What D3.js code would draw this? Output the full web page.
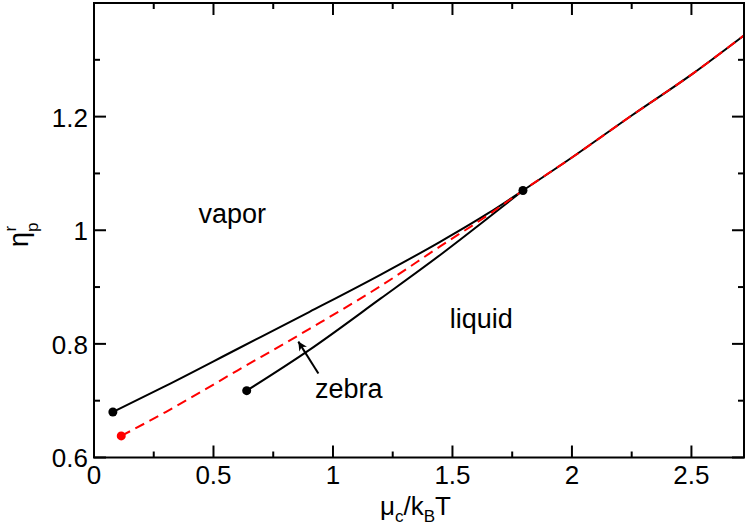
<!DOCTYPE html>
<html lang="en">
<head>
  <meta charset="UTF-8">
  <title>Phase diagram</title>
  <script src="https://d3js.org/d3.v7.min.js"></script>
  <style>
    body { margin: 0; padding: 0; background: #fff; }
    svg { display: block; font-family: "Liberation Sans", Arial, sans-serif; }
    .frame { fill: none; stroke: #000; stroke-width: 2px; }
    .tick-label { font-size: 26px; fill: #000; }
    .curve { fill: none; stroke-width: 2px; }
  </style>
</head>
<body>
  <div id="chart"></div>
  <script>
// vapor/liquid boundary (black, continues past the critical point)
const binodalMu  = [0.079, 0.3, 0.6, 0.9, 1.2, 1.45, 1.65, 1.795, 2.0, 2.25, 2.5, 2.72];
const binodalEta = [0.680, 0.726, 0.791, 0.856, 0.922, 0.980, 1.030, 1.070, 1.128, 1.202, 1.274, 1.343];

// red dashed line
const dashedMu  = [0.114, 0.3, 0.6, 0.9, 1.2, 1.45, 1.65, 1.795, 2.0, 2.25, 2.5, 2.72];
const dashedEta = [0.638, 0.680, 0.753, 0.826, 0.902, 0.972, 1.027, 1.070, 1.128, 1.202, 1.274, 1.343];

// zebra boundary (black, lower branch)
const zebraMu  = [0.639, 0.9, 1.2, 1.45, 1.65, 1.795];
const zebraEta = [0.7176, 0.789, 0.880, 0.957, 1.022, 1.070];

// end points
const blackDots = [[0.079, 0.680], [0.639, 0.7176], [1.795, 1.070]];
const redDots = [[0.114, 0.638]];

const xTicks = [0, 0.5, 1, 1.5, 2, 2.5];
const xMinor = [0.25, 0.75, 1.25, 1.75, 2.25];
const yTicks = [0.6, 0.8, 1.0, 1.2, 1.4];
const yMinor = [0.7, 0.9, 1.1, 1.3];
const yLabels = ["0.6", "0.8", "1", "1.2", ""];

const width = 747, height = 525;
const plotLeft = 94, plotRight = 744, plotTop = 3, plotBottom = 457.5;

const x = d3.scaleLinear().domain([0, 2.72]).range([plotLeft, plotRight]);
const y = d3.scaleLinear().domain([0.6, 1.4]).range([plotBottom, plotTop]);

const svg = d3.select("#chart").append("svg")
  .attr("width", width)
  .attr("height", height);

const zip = (a, b) => a.map((v, i) => [v, b[i]]);
const line = d3.line().x(d => x(d[0])).y(d => y(d[1])).curve(d3.curveMonotoneX);

// curves
svg.append("path").attr("class", "curve")
  .attr("stroke", "#000")
  .attr("d", line(zip(binodalMu, binodalEta)));
svg.append("path").attr("class", "curve")
  .attr("stroke", "#000")
  .attr("d", line(zip(zebraMu, zebraEta)));
svg.append("path").attr("class", "curve")
  .attr("stroke", "#ff0000")
  .attr("stroke-dasharray", "10,6")
  .attr("d", line(zip(dashedMu, dashedEta)));

svg.append("g").selectAll("circle")
  .data(blackDots).join("circle")
  .attr("cx", d => x(d[0])).attr("cy", d => y(d[1]))
  .attr("r", 4.5).attr("fill", "#000");
svg.append("g").selectAll("circle")
  .data(redDots).join("circle")
  .attr("cx", d => x(d[0])).attr("cy", d => y(d[1]))
  .attr("r", 4.5).attr("fill", "#ff0000");

// ticks, pointing inwards on all four sides
const majorLen = 12, minorLen = 6;
const ticks = svg.append("g").attr("stroke", "#000").attr("stroke-width", 2);
function hTicks(vals, len) {
  vals.forEach(v => {
    ticks.append("line").attr("x1", x(v)).attr("x2", x(v))
      .attr("y1", plotBottom).attr("y2", plotBottom - len);
    ticks.append("line").attr("x1", x(v)).attr("x2", x(v))
      .attr("y1", plotTop).attr("y2", plotTop + len);
  });
}
function vTicks(vals, len) {
  vals.forEach(v => {
    ticks.append("line").attr("y1", y(v)).attr("y2", y(v))
      .attr("x1", plotLeft).attr("x2", plotLeft + len);
    ticks.append("line").attr("y1", y(v)).attr("y2", y(v))
      .attr("x1", plotRight).attr("x2", plotRight - len);
  });
}
hTicks(xTicks, majorLen);
hTicks(xMinor, minorLen);
vTicks(yTicks, majorLen);
vTicks(yMinor, minorLen);

svg.append("rect").attr("class", "frame")
  .attr("x", plotLeft).attr("y", plotTop)
  .attr("width", plotRight - plotLeft).attr("height", plotBottom - plotTop);

// tick labels
svg.append("g").selectAll("text")
  .data(xTicks).join("text")
  .attr("class", "tick-label")
  .attr("x", d => x(d)).attr("y", 483.5)
  .attr("text-anchor", "middle")
  .text(d => d);
svg.append("g").selectAll("text")
  .data(yTicks).join("text")
  .attr("class", "tick-label")
  .attr("x", plotLeft - 6).attr("y", d => y(d))
  .attr("dy", "0.38em")
  .attr("text-anchor", "end")
  .text((d, i) => yLabels[i]);

// axis titles
const xt = svg.append("text").attr("x", 380).attr("y", 515).attr("font-size", 26);
xt.append("tspan").text("μ");
xt.append("tspan").attr("font-size", 17).attr("dy", 7).text("c");
xt.append("tspan").attr("dy", -7).text("/k");
xt.append("tspan").attr("font-size", 17).attr("dy", 7).text("B");
xt.append("tspan").attr("dy", -7).text("T");

const yt = svg.append("text")
  .attr("transform", "translate(28,247) rotate(-90)")
  .attr("font-size", 27);
yt.append("tspan").text("η");
yt.append("tspan").attr("font-size", 17).attr("dy", 10).text("p");
yt.append("tspan").attr("font-size", 17).attr("dx", -9).attr("dy", -22).text("r");

// region labels
const regionNames = ["vapor", "liquid", "zebra"];
const regionAt = [[0.437, 1.013], [1.489, 0.8275], [0.925, 0.704]];
svg.append("g").selectAll("text")
  .data(regionNames).join("text")
  .attr("font-size", 27)
  .attr("x", (d, i) => x(regionAt[i][0]))
  .attr("y", (d, i) => y(regionAt[i][1]))
  .text(d => d);

// arrow pointing at the zebra line
svg.append("defs").append("marker")
  .attr("id", "head")
  .attr("viewBox", "0 0 10 10")
  .attr("refX", 10).attr("refY", 5)
  .attr("markerWidth", 11).attr("markerHeight", 9)
  .attr("markerUnits", "userSpaceOnUse")
  .attr("orient", "auto")
  .append("path").attr("d", "M0,0 L10,5 L0,10 L3,5 Z").attr("fill", "#000");
svg.append("line")
  .attr("x1", x(0.939)).attr("y1", y(0.748))
  .attr("x2", x(0.855)).attr("y2", y(0.804))
  .attr("stroke", "#000").attr("stroke-width", 2)
  .attr("marker-end", "url(#head)");
  </script>
</body>
</html>
